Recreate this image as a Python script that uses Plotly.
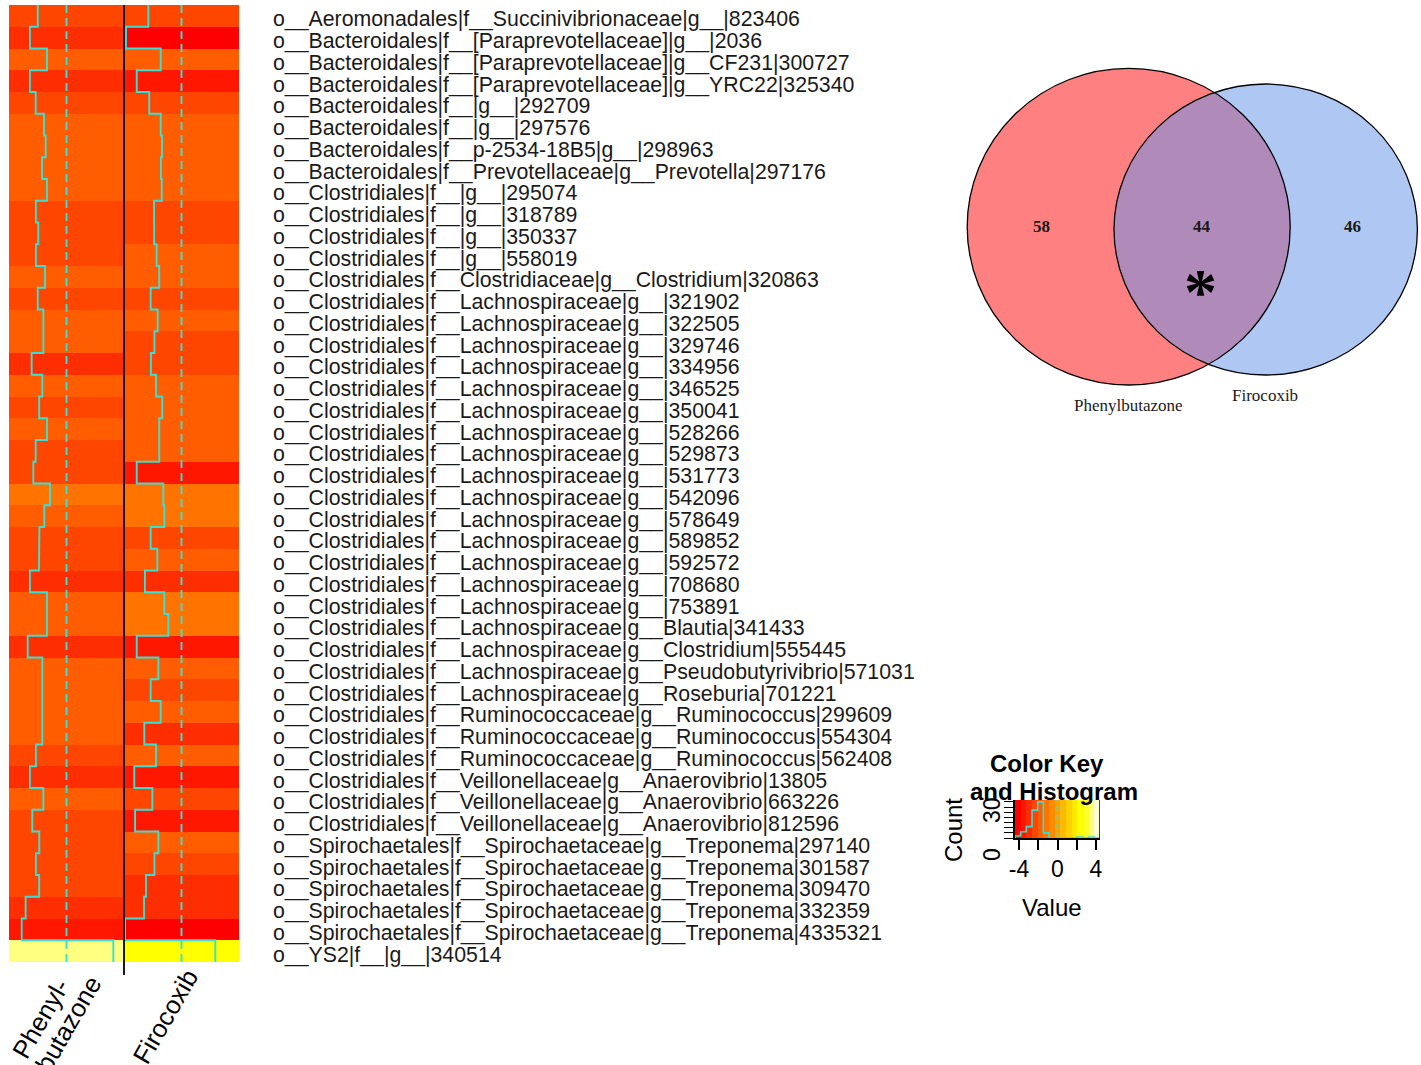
import colorsys
import numpy as np
import plotly.graph_objects as go

W, H = 1421, 1065

# ---------------- data ----------------
taxa = [
    "o__Aeromonadales|f__Succinivibrionaceae|g__|823406",
    "o__Bacteroidales|f__[Paraprevotellaceae]|g__|2036",
    "o__Bacteroidales|f__[Paraprevotellaceae]|g__CF231|300727",
    "o__Bacteroidales|f__[Paraprevotellaceae]|g__YRC22|325340",
    "o__Bacteroidales|f__|g__|292709",
    "o__Bacteroidales|f__|g__|297576",
    "o__Bacteroidales|f__p-2534-18B5|g__|298963",
    "o__Bacteroidales|f__Prevotellaceae|g__Prevotella|297176",
    "o__Clostridiales|f__|g__|295074",
    "o__Clostridiales|f__|g__|318789",
    "o__Clostridiales|f__|g__|350337",
    "o__Clostridiales|f__|g__|558019",
    "o__Clostridiales|f__Clostridiaceae|g__Clostridium|320863",
    "o__Clostridiales|f__Lachnospiraceae|g__|321902",
    "o__Clostridiales|f__Lachnospiraceae|g__|322505",
    "o__Clostridiales|f__Lachnospiraceae|g__|329746",
    "o__Clostridiales|f__Lachnospiraceae|g__|334956",
    "o__Clostridiales|f__Lachnospiraceae|g__|346525",
    "o__Clostridiales|f__Lachnospiraceae|g__|350041",
    "o__Clostridiales|f__Lachnospiraceae|g__|528266",
    "o__Clostridiales|f__Lachnospiraceae|g__|529873",
    "o__Clostridiales|f__Lachnospiraceae|g__|531773",
    "o__Clostridiales|f__Lachnospiraceae|g__|542096",
    "o__Clostridiales|f__Lachnospiraceae|g__|578649",
    "o__Clostridiales|f__Lachnospiraceae|g__|589852",
    "o__Clostridiales|f__Lachnospiraceae|g__|592572",
    "o__Clostridiales|f__Lachnospiraceae|g__|708680",
    "o__Clostridiales|f__Lachnospiraceae|g__|753891",
    "o__Clostridiales|f__Lachnospiraceae|g__Blautia|341433",
    "o__Clostridiales|f__Lachnospiraceae|g__Clostridium|555445",
    "o__Clostridiales|f__Lachnospiraceae|g__Pseudobutyrivibrio|571031",
    "o__Clostridiales|f__Lachnospiraceae|g__Roseburia|701221",
    "o__Clostridiales|f__Ruminococcaceae|g__Ruminococcus|299609",
    "o__Clostridiales|f__Ruminococcaceae|g__Ruminococcus|554304",
    "o__Clostridiales|f__Ruminococcaceae|g__Ruminococcus|562408",
    "o__Clostridiales|f__Veillonellaceae|g__Anaerovibrio|13805",
    "o__Clostridiales|f__Veillonellaceae|g__Anaerovibrio|663226",
    "o__Clostridiales|f__Veillonellaceae|g__Anaerovibrio|812596",
    "o__Spirochaetales|f__Spirochaetaceae|g__Treponema|297140",
    "o__Spirochaetales|f__Spirochaetaceae|g__Treponema|301587",
    "o__Spirochaetales|f__Spirochaetaceae|g__Treponema|309470",
    "o__Spirochaetales|f__Spirochaetaceae|g__Treponema|332359",
    "o__Spirochaetales|f__Spirochaetaceae|g__Treponema|4335321",
    "o__YS2|f__|g__|340514",
]

treatments = [["Phenyl-", "butazone"], ["Firocoxib"]]

# log2 fold change per OTU
phenylbutazone = [
    -2.21, -2.81, -1.50, -2.81, -2.37, -1.73, -1.60, -1.88, -1.50, -2.35,
    -2.17, -2.35, -1.65, -2.21, -1.78, -1.78, -2.68, -1.86, -2.10, -1.50,
    -2.37, -2.55, -1.27, -1.71, -2.08, -2.12, -2.81, -1.50, -1.50, -2.98,
    -1.86, -1.86, -1.86, -1.86, -2.35, -2.81, -1.78, -2.63, -2.09, -2.35,
    -2.10, -3.14, -3.44, 3.60,
]
firocoxib = [
    -2.55, -4.27, -1.60, -3.44, -2.48, -1.60, -1.50, -1.58, -1.52, -2.11,
    -2.10, -1.91, -1.71, -2.37, -1.83, -2.08, -2.35, -1.96, -1.48, -1.71,
    -1.71, -3.44, -1.40, -1.32, -2.37, -1.86, -2.81, -1.32, -1.01, -3.44,
    -1.78, -2.37, -1.60, -2.86, -1.96, -3.63, -2.24, -3.57, -1.78, -2.08,
    -2.73, -2.88, -4.34, 2.60,
]

venn_sets = ["Phenylbutazone", "Firocoxib"]
venn_counts = [58, 44, 46]          # only PBZ, shared, only FIR

key_ticks = [-4, -2, 0, 2, 4]
key_tick_text = ["-4", "", "0", "", "4"]

# ---------------- colour scale (heat.colors, 15 bins) ----------------
VMIN, VMAX = -4.42, 4.42
N_COL = 15


def heat_colors(n):
    j = n // 4
    i = n - j
    cols = []
    for k in range(i):
        h = (k / (i - 1)) * (1 / 6)
        cols.append(colorsys.hsv_to_rgb(h, 1, 1))
    if j:
        for s in np.linspace(1 - 1 / (2 * j), 1 / (2 * j), j):
            cols.append(colorsys.hsv_to_rgb(1 / 6, s, 1))
    return ["#%02X%02X%02X" % tuple(int(round(c * 255)) for c in rgb) for rgb in cols]


pal = heat_colors(N_COL)
cscale = []
for k, c in enumerate(pal):
    cscale.append([k / N_COL, c])
    cscale.append([(k + 1) / N_COL, c])

TRACE = "#38E0D4"
FONT = "Liberation Sans, Arial, sans-serif"
SERIF = "Liberation Serif, Times New Roman, serif"


def px_x(p):
    return p / W


def px_y(p):
    return 1 - p / H


fig = go.Figure()

# ---------------- heatmap ----------------
n = len(taxa)
z = np.column_stack([phenylbutazone, firocoxib])
fig.add_trace(go.Heatmap(
    z=z, x=[0, 1], y=list(range(n)), colorscale=cscale,
    zmin=VMIN, zmax=VMAX, showscale=False, hoverinfo="skip",
    xaxis="x", yaxis="y",
))

shapes = []
for i, vals in enumerate([phenylbutazone, firocoxib]):
    v = np.asarray(vals)
    xs = i - 0.5 + (v - VMIN) / (VMAX - VMIN)
    xx = np.repeat(xs, 2)
    yy = np.ravel([[r - 0.5, r + 0.5] for r in range(n)])
    fig.add_trace(go.Scatter(
        x=xx, y=yy, mode="lines", line=dict(color=TRACE, width=1.9),
        hoverinfo="skip", showlegend=False, xaxis="x", yaxis="y",
    ))
    # reference line at value 0
    x0 = i - 0.5 + (0 - VMIN) / (VMAX - VMIN)
    shapes.append(dict(type="line", xref="x", yref="y", x0=x0, x1=x0,
                       y0=-0.5, y1=n - 0.5,
                       line=dict(color=TRACE, width=1.9, dash="8px,5px")))

# column separator
shapes.append(dict(type="line", xref="x", yref="paper", x0=0.5, x1=0.5,
                   y0=px_y(975), y1=px_y(5), line=dict(color="black", width=1.8)))

annotations = []
for r, name in enumerate(taxa):
    annotations.append(dict(
        text=name, xref="paper", yref="y", x=px_x(271), y=r, yshift=-3.5,
        xanchor="left", yanchor="middle", showarrow=False,
        font=dict(family=FONT, size=21.3, color="#1a1a1a"),
    ))

# column labels, rotated 60 degrees; each line placed on its own
col_label_pos = [[(40, 1018.5), (68, 1024)], [(165, 1017)]]
for lines, positions in zip(treatments, col_label_pos):
    for txt, (x, y) in zip(lines, positions):
        annotations.append(dict(
            text=txt, xref="paper", yref="paper", x=px_x(x), y=px_y(y),
            xanchor="center", yanchor="middle", textangle=-60, showarrow=False,
            font=dict(family=FONT, size=25.5, color="black"),
        ))

# ---------------- colour key with histogram ----------------
edges = np.linspace(VMIN, VMAX, N_COL + 1)
allv = np.concatenate([phenylbutazone, firocoxib])
counts, _ = np.histogram(allv, bins=edges)
ytop = counts.max() / 0.95
mids = (edges[:-1] + edges[1:]) / 2
fig.add_trace(go.Heatmap(
    z=[mids], x=edges, y=[0, ytop], colorscale=cscale, zmin=VMIN, zmax=VMAX,
    showscale=False, hoverinfo="skip", xaxis="x2", yaxis="y2",
))
hx = np.concatenate([[edges[0]], edges])
hy = np.concatenate([[0], counts, [0]])
fig.add_trace(go.Scatter(
    x=hx, y=hy, mode="lines", line=dict(color=TRACE, width=1.6, shape="hv"),
    hoverinfo="skip", showlegend=False, xaxis="x2", yaxis="y2",
))
shapes.append(dict(type="line", xref="x2", yref="y2", x0=0, x1=0, y0=0, y1=ytop,
                   line=dict(color=TRACE, width=1.6, dash="5px,4px")))
shapes.append(dict(type="line", xref="x2", yref="y2", x0=VMAX, x1=VMAX, y0=0, y1=ytop,
                   line=dict(color="black", width=1.5)))

annotations += [
    dict(text="<b>Color Key</b>", xref="paper", yref="paper", x=px_x(1047), y=px_y(763),
         xanchor="center", yanchor="middle", showarrow=False,
         font=dict(family=FONT, size=24, color="black")),
    dict(text="<b>and Histogram</b>", xref="paper", yref="paper", x=px_x(1054), y=px_y(791),
         xanchor="center", yanchor="middle", showarrow=False,
         font=dict(family=FONT, size=24, color="black")),
    dict(text="Count", xref="paper", yref="paper", x=px_x(953), y=px_y(830),
         xanchor="center", yanchor="middle", textangle=-90, showarrow=False,
         font=dict(family=FONT, size=24, color="black")),
    dict(text="30", xref="paper", yref="paper", x=px_x(992), y=px_y(810),
         xanchor="center", yanchor="middle", textangle=-90, showarrow=False,
         font=dict(family=FONT, size=23, color="black")),
    dict(text="0", xref="paper", yref="paper", x=px_x(992), y=px_y(855),
         xanchor="center", yanchor="middle", textangle=-90, showarrow=False,
         font=dict(family=FONT, size=23, color="black")),
    dict(text="Value", xref="paper", yref="paper", x=px_x(1052), y=px_y(907),
         xanchor="center", yanchor="middle", showarrow=False,
         font=dict(family=FONT, size=24, color="black")),
]

# ---------------- Venn diagram (pixel-unit axes) ----------------
circA = (1128.7, 226.7, 161.5, 158.3)
circB = (1265.7, 229.5, 151.7, 145.5)


def ellipse(cx, cy, rx, ry, m=1440):
    t = np.linspace(0, 2 * np.pi, m, endpoint=False)
    return cx + rx * np.cos(t), cy + ry * np.sin(t)


def inside(x, y, cx, cy, rx, ry):
    return ((x - cx) / rx) ** 2 + ((y - cy) / ry) ** 2 <= 1


ax_, ay_ = ellipse(*circA)
bx_, by_ = ellipse(*circB)
ka = inside(ax_, ay_, *circB)
kb = inside(bx_, by_, *circA)
lx = np.concatenate([ax_[ka], bx_[kb]])
ly = np.concatenate([ay_[ka], by_[kb]])
ang = np.arctan2(ly - ly.mean(), lx - lx.mean())
order = np.argsort(ang)
lens_path = "M " + " L ".join(f"{x:.2f},{y:.2f}" for x, y in zip(lx[order], ly[order])) + " Z"


def ell_shape(c, fill, line):
    cx, cy, rx, ry = c
    return dict(type="circle", xref="x3", yref="y3", x0=cx - rx, x1=cx + rx,
                y0=cy - ry, y1=cy + ry, fillcolor=fill, line=line)


shapes += [
    ell_shape(circA, "#FF8080", dict(width=0)),
    ell_shape(circB, "#AFC8F3", dict(width=0)),
    dict(type="path", xref="x3", yref="y3", path=lens_path,
         fillcolor="#B08AB8", line=dict(width=0)),
    ell_shape(circA, "rgba(0,0,0,0)", dict(color="black", width=1.3)),
    ell_shape(circB, "rgba(0,0,0,0)", dict(color="black", width=1.3)),
]

for val, (x, y) in zip(venn_counts, [(1041, 226), (1201.5, 226), (1352.5, 226)]):
    annotations.append(dict(text=f"<b>{val}</b>", xref="x3", yref="y3", x=x, y=y,
                            xanchor="center", yanchor="middle", showarrow=False,
                            font=dict(family=SERIF, size=17, color="#1a1a1a")))
annotations.append(dict(text="<b>*</b>", xref="x3", yref="y3", x=1200, y=291,
                        xanchor="center", yanchor="middle", showarrow=False,
                        font=dict(family=SERIF, size=66, color="black")))
annotations.append(dict(text=venn_sets[0], xref="x3", yref="y3", x=1128, y=405.5,
                        xanchor="center", yanchor="middle", showarrow=False,
                        font=dict(family=SERIF, size=17, color="#1a1a1a")))
annotations.append(dict(text=venn_sets[1], xref="x3", yref="y3", x=1264.5, y=395.5,
                        xanchor="center", yanchor="middle", showarrow=False,
                        font=dict(family=SERIF, size=17, color="#1a1a1a")))

hidden = dict(visible=False, showgrid=False, zeroline=False, automargin=False)
fig.update_layout(
    width=W, height=H,
    margin=dict(l=0, r=0, t=0, b=0, pad=0, autoexpand=False),
    paper_bgcolor="white", plot_bgcolor="rgba(0,0,0,0)", showlegend=False,
    xaxis=dict(domain=[px_x(9), px_x(239)], range=[-0.5, 1.5], **hidden),
    yaxis=dict(domain=[px_y(962), px_y(5)], range=[n - 0.5, -0.5], **hidden),
    xaxis2=dict(domain=[px_x(1015), px_x(1100)], range=[VMIN, VMAX], anchor="y2",
                tickvals=key_ticks, ticktext=key_tick_text, ticks="outside",
                ticklen=10, tickwidth=1.5, tickcolor="black", showgrid=False,
                zeroline=False, showline=True, linecolor="black", linewidth=1.5,
                automargin=False,
                tickfont=dict(family=FONT, size=23, color="black")),
    yaxis2=dict(domain=[px_y(838), px_y(800)], range=[0, ytop], anchor="x2",
                tickvals=list(range(0, int(counts.max()) + 1, 5)), ticks="outside",
                ticklen=9, tickwidth=1.3, tickcolor="black", showticklabels=False,
                showgrid=False, zeroline=False, showline=True, linecolor="black",
                linewidth=1.5, automargin=False),
    xaxis3=dict(domain=[px_x(940), 1], range=[940, 1421], anchor="y3", **hidden),
    yaxis3=dict(domain=[px_y(440), px_y(40)], range=[440, 40], anchor="x3", **hidden),
    shapes=shapes, annotations=annotations,
)

fig.write_html("out.html")
